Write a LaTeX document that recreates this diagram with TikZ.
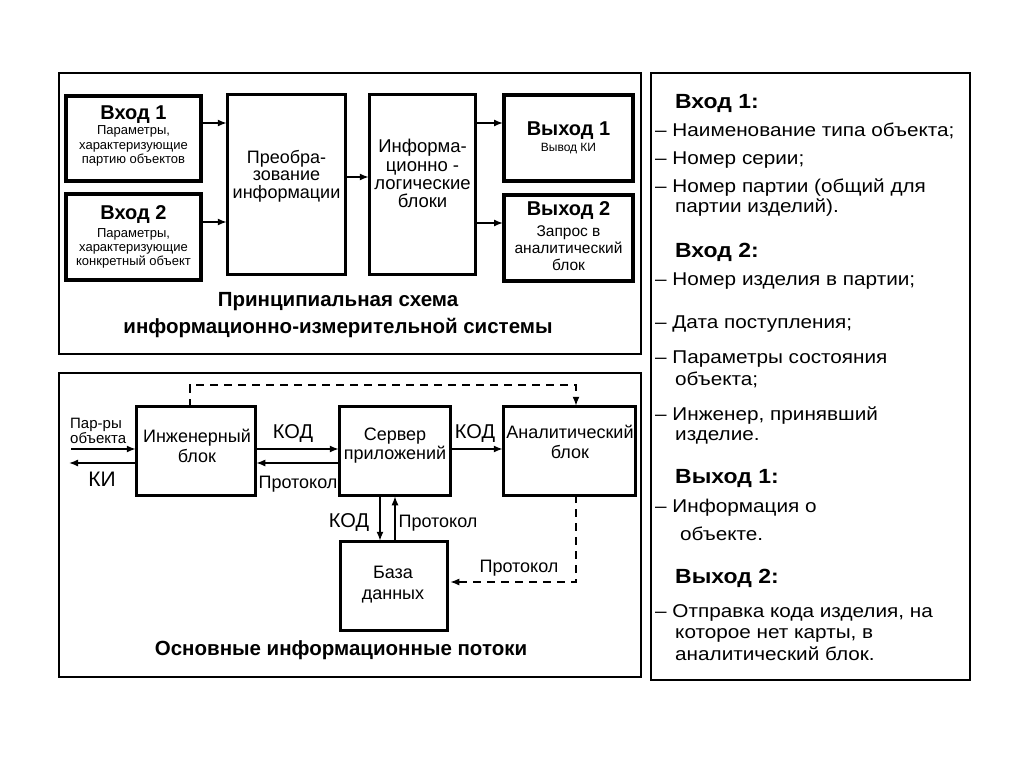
\documentclass[tikz,border=0pt]{standalone}
\usepackage{fontspec}
\setmainfont{Liberation Sans}
\newfontfamily\widefont[FakeStretch=1.12]{Liberation Sans}
\usetikzlibrary{arrows.meta}
\newcommand\myfz[1]{\fontsize{#1}{#1}\selectfont}
\begin{document}
\begin{tikzpicture}[x=1pt,y=-1pt,
  frm/.style={draw, line width=2.6pt},
  bx/.style={draw, line width=4pt, inner sep=0pt, outer sep=0pt},
  bxs/.style={draw, line width=3.4pt, inner sep=0pt, outer sep=0pt},
  arr/.style={line width=1.4pt, -{Latex[length=9pt,width=7pt]}, shorten >=1pt},
  darr/.style={arr, dash pattern=on 8pt off 6pt},
  t/.style={inner sep=0pt, anchor=base},
  tw/.style={inner sep=0pt, anchor=base west},
  hd/.style={tw, font=\widefont\bfseries\myfz{20.5}},
  rt/.style={tw, font=\widefont\myfz{18.5}},
]
\useasboundingbox[fill=white] (0,0) rectangle (1024,767);

% frames
\draw[frm] (59,73) rectangle (641,354);
\draw[frm] (59,373) rectangle (641,677);
\draw[frm] (651,73) rectangle (970,680);

% ---------- top section ----------
\node[bx, minimum width=135pt, minimum height=85pt] (in1) at (133.5,138.5) {};
\node[bx, minimum width=135pt, minimum height=86pt] (in2) at (133.5,237) {};
\node[bxs, minimum width=117.5pt, minimum height=179.5pt] (conv) at (286.5,184.5) {};
\node[bxs, minimum width=105.5pt, minimum height=179.5pt] (info) at (422.5,184.5) {};
\node[bx, minimum width=129pt, minimum height=86pt] (out1) at (568.5,138) {};
\node[bx, minimum width=129pt, minimum height=86pt] (out2) at (568.5,238) {};

\node[t, font=\bfseries\myfz{20}] (in1h) at (133.5,120) {Вход 1};
\node[t, font=\myfz{13}] (in1a) at (133.5,135) {Параметры,};
\node[t, font=\myfz{13}] (in1b) at (133.5,150) {характеризующие};
\node[t, font=\myfz{13}] (in1c) at (133.5,164) {партию объектов};

\node[t, font=\bfseries\myfz{20}] (in2h) at (133.5,220) {Вход 2};
\node[t, font=\myfz{13}] (in2a) at (133.5,237) {Параметры,};
\node[t, font=\myfz{13}] (in2b) at (133.5,251.5) {характеризующие};
\node[t, font=\myfz{13}] (in2c) at (133.5,265.5) {конкретный объект};

\node[t, font=\myfz{18}] (cv1) at (286.5,164) {Преобра-};
\node[t, font=\myfz{18}] (cv2) at (286.5,181) {зование};
\node[t, font=\myfz{18}] (cv3) at (286.5,199) {информации};

\node[t, font=\myfz{18.5}] (if1) at (422.5,153) {Информа-};
\node[t, font=\myfz{18.5}] (if2) at (422.5,172) {ционно -};
\node[t, font=\myfz{18.5}] (if3) at (422.5,190) {логические};
\node[t, font=\myfz{18.5}] (if4) at (422.5,208) {блоки};

\node[t, font=\bfseries\myfz{20}] (o1h) at (568.5,135.5) {Выход 1};
\node[t, font=\myfz{12}] (o1a) at (568.5,152) {Вывод КИ};

\node[t, font=\bfseries\myfz{20}] (o2h) at (568.5,215) {Выход 2};
\node[t, font=\myfz{15.5}] (o2a) at (568.5,236.5) {Запрос в};
\node[t, font=\myfz{15.5}] (o2b) at (568.5,253) {аналитический};
\node[t, font=\myfz{15.5}] (o2c) at (568.5,270) {блок};

\coordinate (a1) at ([yshift=15.5pt]in1.east);
\draw[arr] (a1) -- (a1 -| conv.west);
\coordinate (a2) at ([yshift=15pt]in2.east);
\draw[arr] (a2) -- (a2 -| conv.west);
\coordinate (a3) at ([yshift=7.5pt]conv.east);
\draw[arr] (a3) -- (a3 -| info.west);
\coordinate (a4) at ([yshift=15pt]out1.west);
\draw[arr] (a4 -| info.east) -- (a4);
\coordinate (a5) at ([yshift=15pt]out2.west);
\draw[arr] (a5 -| info.east) -- (a5);

\node[t, font=\bfseries\myfz{20.5}] (cap1a) at (338,306) {Принципиальная схема};
\node[t, font=\bfseries\myfz{20.5}] (cap1b) at (338,333) {информационно-измерительной системы};

% ---------- bottom section ----------
\node[bxs, minimum width=118.5pt, minimum height=88.5pt] (eng) at (196,451) {};
\node[bxs, minimum width=110.5pt, minimum height=88.5pt] (srv) at (395,451) {};
\node[bxs, minimum width=131.5pt, minimum height=88.5pt] (ana) at (569.5,451) {};
\node[bxs, minimum width=106.5pt, minimum height=88.5pt] (db) at (394,586) {};

\node[t, font=\myfz{18}] (eng1) at (197,442) {Инженерный};
\node[t, font=\myfz{18}] (eng2) at (197,462) {блок};
\node[t, font=\myfz{18}] (srv1) at (395,440) {Сервер};
\node[t, font=\myfz{18}] (srv2) at (395,459) {приложений};
\node[t, font=\myfz{18}] (ana1) at (570,438) {Аналитический};
\node[t, font=\myfz{18}] (ana2) at (570,458) {блок};
\node[t, font=\myfz{18}] (db1) at (393,578) {База};
\node[t, font=\myfz{18}] (db2) at (393,599) {данных};

\node[tw, font=\myfz{15}] (par1) at (70,428) {Пар-ры};
\node[tw, font=\myfz{15}] (par2) at (70,443) {объекта};
\node[t, font=\myfz{21}] (ki) at (102,486) {КИ};
\node[t, font=\myfz{20}] (kod1) at (293,438) {КОД};
\node[t, font=\myfz{18}] (pr1) at (298,488) {Протокол};
\node[t, font=\myfz{20}] (kod2) at (475,438) {КОД};
\node[t, font=\myfz{20}] (kod3) at (349,527) {КОД};
\node[t, font=\myfz{18}] (pr2) at (438,527) {Протокол};
\node[t, font=\myfz{18}] (pr3) at (519,572) {Протокол};

\coordinate (pin) at (71,449);
\coordinate (pout) at (68,463);
\draw[arr] (pin) -- (pin -| eng.west);
\draw[arr] ([yshift=-12pt]eng.west) -- (pout);
\coordinate (b1) at ([yshift=2pt]eng.east);
\draw[arr] (b1) -- (b1 -| srv.west);
\coordinate (b2) at ([yshift=-12pt]srv.west);
\draw[arr] (b2) -- (b2 -| eng.east);
\coordinate (b3) at ([yshift=2pt]srv.east);
\draw[arr] (b3) -- (b3 -| ana.west);
\coordinate (b4) at ([xshift=-15pt]srv.south);
\draw[arr] (b4) -- (b4 |- db.north);
\coordinate (b5) at ([xshift=1pt]db.north);
\draw[arr] (b5) -- (b5 |- srv.south);

\coordinate (dtop) at (380,385);
\draw[darr] ([xshift=-6pt]eng.north) |- (dtop) -| ([xshift=6.5pt]ana.north);
\draw[darr, shorten >=3pt] ([xshift=6.5pt]ana.south) |- ([yshift=4pt]db.east);

\node[t, font=\bfseries\myfz{20.5}] (cap2) at (341,655) {Основные информационные потоки};

% ---------- right panel ----------
\node[hd] (r1) at (675,109) {Вход 1:};
\node[rt] (r2) at (655,137) {– Наименование типа объекта;};
\node[rt] (r3) at (655,165) {– Номер серии;};
\node[rt] (r4) at (655,193) {– Номер партии (общий для};
\node[rt] (r5) at (675,213) {партии изделий).};
\node[hd] (r6) at (675,258) {Вход 2:};
\node[rt] (r7) at (655,285) {– Номер изделия в партии;};
\node[rt] (r8) at (655,328) {– Дата поступления;};
\node[rt] (r9) at (655,363) {– Параметры состояния};
\node[rt] (r10) at (675,385) {объекта;};
\node[rt] (r11) at (655,420) {– Инженер, принявший};
\node[rt] (r12) at (675,440) {изделие.};
\node[hd] (r13) at (675,483) {Выход 1:};
\node[rt] (r14) at (655,512) {– Информация о};
\node[rt] (r15) at (680,540) {объекте.};
\node[hd] (r16) at (675,583) {Выход 2:};
\node[rt] (r17) at (655,617) {– Отправка кода изделия, на};
\node[rt] (r18) at (675,638) {которое нет карты, в};
\node[rt] (r19) at (675,660) {аналитический блок.};
\end{tikzpicture}
\end{document}
